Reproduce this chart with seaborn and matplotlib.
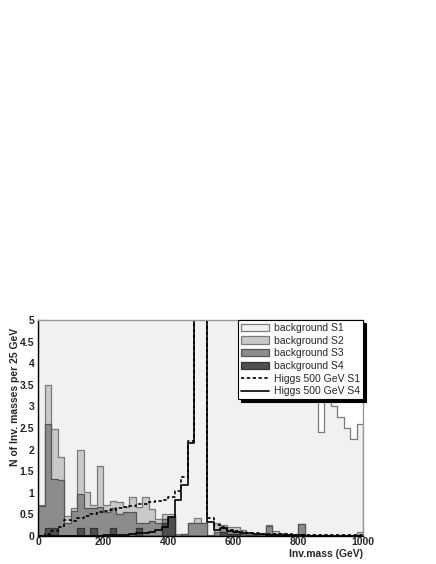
import numpy as np
import pandas as pd
import matplotlib
matplotlib.use('Agg')
import matplotlib.pyplot as plt
import seaborn as sns
from matplotlib.patches import Patch
from matplotlib.lines import Line2D

# --- DATA (50 bins of 20 GeV, 0 - 1000 GeV) ---
bin_edges = list(range(0, 1001, 20))
bin_centers = [e + 10 for e in bin_edges[:-1]]

# background S1 is huge almost everywhere (clipped at 5)
bkg_s1 = [50] * 43 + [2.41, 50, 3.0, 2.75, 2.5, 2.25, 2.6]

bkg_s2 = [0.72, 3.5, 2.48, 1.82, 0.47, 0.65, 2.0, 1.02, 0.72, 1.63,
          0.72, 0.8, 0.78, 0.67, 0.9, 0.67, 0.9, 0.62, 0.4, 0.5,
          0.5, 0.05, 0.05, 0.3, 0.41, 0.29, 0.02, 0.3, 0.25, 0.2,
          0.2, 0.15, 0.05, 0.04, 0.03, 0.25, 0.12, 0.08, 0.05, 0.03,
          0.28, 0.03, 0.03, 0.03, 0.02, 0.01, 0.01, 0.01, 0.01, 0.1]

bkg_s3 = [0.7, 2.6, 1.33, 1.3, 0.3, 0.58, 0.97, 0.65, 0.65, 0.68,
          0.55, 0.65, 0.5, 0.55, 0.55, 0.3, 0.3, 0.35, 0.3, 0.4,
          0.45, 0.0, 0.05, 0.29, 0.29, 0.29, 0.0, 0.1, 0.18, 0.15,
          0.1, 0.05, 0.02, 0.02, 0.01, 0.23, 0.05, 0.03, 0.02, 0.01,
          0.28, 0.01, 0.01, 0.01, 0.0, 0.0, 0.0, 0.0, 0.0, 0.02]

bkg_s4 = [0.0, 0.18, 0.18, 0.0, 0.0, 0.0, 0.18, 0.0, 0.18, 0.0,
          0.0, 0.18, 0.0, 0.0, 0.0, 0.18, 0.0, 0.0, 0.0, 0.3,
          0.45, 0.0, 0.0, 0.0, 0.0, 0.0, 0.0, 0.0, 0.1, 0.05,
          0.05, 0.0, 0.0, 0.0, 0.0, 0.0, 0.0, 0.0, 0.0, 0.0,
          0.0, 0.0, 0.0, 0.0, 0.0, 0.0, 0.0, 0.0, 0.0, 0.0]

higgs_s1 = [0.0, 0.05, 0.12, 0.2, 0.38, 0.35, 0.42, 0.47, 0.52, 0.55,
            0.58, 0.6, 0.65, 0.68, 0.7, 0.73, 0.75, 0.78, 0.8, 0.83,
            0.9, 1.05, 1.37, 2.2, 30, 30, 0.42, 0.25, 0.2, 0.15,
            0.12, 0.1, 0.08, 0.06, 0.05, 0.05, 0.04, 0.04, 0.04, 0.03,
            0.03, 0.03, 0.03, 0.03, 0.03, 0.03, 0.03, 0.03, 0.03, 0.03]

higgs_s4 = [0.0, 0.0, 0.0, 0.0, 0.0, 0.0, 0.0, 0.0, 0.01, 0.01,
            0.02, 0.02, 0.03, 0.03, 0.05, 0.06, 0.08, 0.1, 0.13, 0.2,
            0.45, 0.83, 1.18, 2.16, 30, 30, 0.33, 0.14, 0.18, 0.12,
            0.1, 0.08, 0.06, 0.05, 0.04, 0.03, 0.03, 0.02, 0.02, 0.02,
            0.02, 0.01, 0.01, 0.01, 0.01, 0.01, 0.01, 0.01, 0.01, 0.01]

legend_labels = ['background S1', 'background S2', 'background S3',
                 'background S4', 'Higgs 500 GeV S1', 'Higgs 500 GeV S4']

# --- STYLE ---
sns.set_style('white')
plt.rcParams['font.family'] = ['Liberation Sans', 'DejaVu Sans']

fills = [
    (bkg_s1, '#f1f1f1', '#7a7a7a'),
    (bkg_s2, '#c9c9c9', '#7a7a7a'),
    (bkg_s3, '#8c8c8c', '#555555'),
    (bkg_s4, '#4f4f4f', '#333333'),
]

fig = plt.figure(figsize=(4.36, 5.64), dpi=100)
ax = fig.add_axes([0.0883, 0.0496, 0.7443, 0.383])
ax.set_facecolor('white')

for vals, fc, ec in fills:
    df = pd.DataFrame({'mass': bin_centers, 'w': vals})
    sns.histplot(data=df, x='mass', weights='w', bins=bin_edges, element='step',
                 fill=True, color=fc, alpha=1, edgecolor=ec, linewidth=0.9, ax=ax)

df_h1 = pd.DataFrame({'mass': bin_centers, 'w': higgs_s1})
df_h4 = pd.DataFrame({'mass': bin_centers, 'w': higgs_s4})
sns.histplot(data=df_h1, x='mass', weights='w', bins=bin_edges, element='step',
             fill=False, color='black', linestyle=(0, (2, 1.5)), linewidth=1.2, ax=ax)
sns.histplot(data=df_h4, x='mass', weights='w', bins=bin_edges, element='step',
             fill=False, color='black', linewidth=1.2, ax=ax)

ax.set_xlim(0, 1000)
ax.set_ylim(0, 5)
ax.set_yticks(np.arange(0, 5.01, 0.5))
ax.set_yticklabels(['0', '0.5', '1', '1.5', '2', '2.5', '3', '3.5', '4', '4.5', '5'])
ax.set_yticks(np.arange(0, 5.01, 0.1), minor=True)
ax.set_xticks([0, 200, 400, 600, 800, 1000])
ax.set_xticks(np.arange(0, 1001, 50), minor=True)
ax.tick_params(axis='both', which='major', direction='in', length=6, width=0.8,
               labelsize=7.5, left=True, bottom=True)
ax.tick_params(axis='x', which='major', pad=1)
ax.tick_params(axis='y', which='major', pad=3)
ax.tick_params(axis='both', which='minor', direction='in', length=3, width=0.6,
               left=True, bottom=True)
for lab in ax.get_xticklabels() + ax.get_yticklabels():
    lab.set_fontweight('bold')

for side in ['left', 'bottom']:
    ax.spines[side].set_color('black')
    ax.spines[side].set_linewidth(1.0)
for side in ['top', 'right']:
    ax.spines[side].set_color('#999999')
    ax.spines[side].set_linewidth(1.0)

ax.set_xlabel('')
ax.set_ylabel('')
fig.text(15 / 436, 1 - 397 / 564, 'N of Inv. masses per 25 GeV', rotation=90,
         ha='center', va='center', fontsize=7.5, fontweight='bold')
fig.text(363 / 436, 1 - 554 / 564, 'Inv.mass (GeV)', ha='right', va='center',
         fontsize=7.5, fontweight='bold')

handles = [Patch(facecolor=fc, edgecolor=ec, linewidth=0.9) for _, fc, ec in fills]
handles += [Line2D([], [], color='black', linestyle=(0, (2, 1.5)), linewidth=1.2),
            Line2D([], [], color='black', linewidth=1.2)]
leg = ax.legend(handles, legend_labels, loc='upper right', bbox_to_anchor=(1.0, 1.0),
                fontsize=7.5, frameon=True, fancybox=False,
                shadow={'color': 'black', 'alpha': 1},
                borderpad=0.3, labelspacing=0.25, handlelength=2.6, handletextpad=0.5,
                borderaxespad=0.0)
leg.get_frame().set_edgecolor('black')
leg.get_frame().set_linewidth(0.8)

fig.savefig('out.png', dpi=100)
